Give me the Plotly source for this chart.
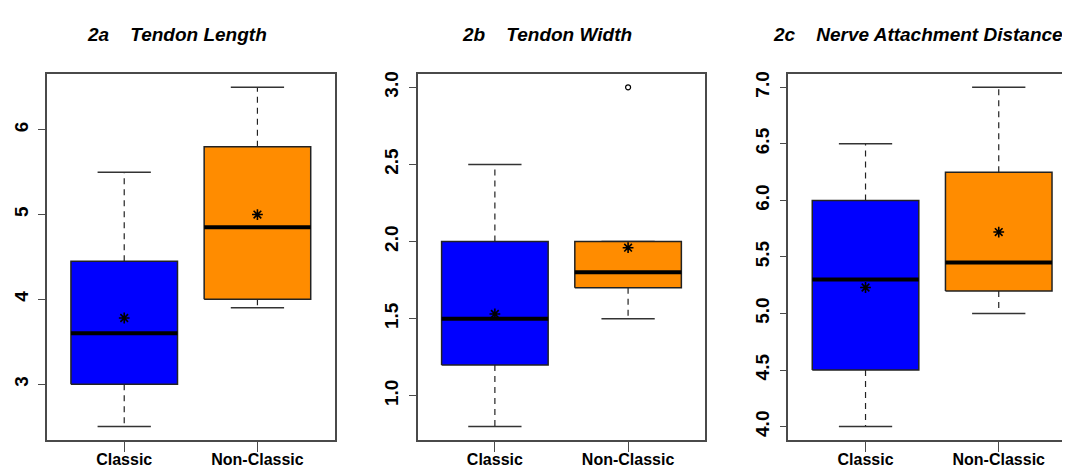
import plotly.graph_objects as go

# ---- data ----
groups = ["Classic", "Non-Classic"]
panel_ids = ["2a", "2b", "2c"]
panel_titles = ["Tendon Length", "Tendon Width", "Nerve Attachment Distance"]

# per panel: [Classic, Non-Classic]
lower_whisker = [[2.5, 3.9], [0.8, 1.5], [4.0, 5.0]]
q1 = [[3.0, 4.0], [1.2, 1.7], [4.5, 5.2]]
median = [[3.6, 4.85], [1.5, 1.8], [5.3, 5.45]]
q3 = [[4.45, 5.8], [2.0, 2.0], [6.0, 6.25]]
upper_whisker = [[5.5, 6.5], [2.5, 2.0], [6.5, 7.0]]
means = [[3.78, 5.0], [1.53, 1.96], [5.23, 5.72]]
outliers = [[[], []], [[], [3.0]], [[], []]]

y_ticks = [[3, 4, 5, 6], [1.0, 1.5, 2.0, 2.5, 3.0], [4.0, 4.5, 5.0, 5.5, 6.0, 6.5, 7.0]]
y_tickfmt = ["d", ".1f", ".1f"]

colors = ["#0000FF", "#FF8C00"]

# ---- layout geometry (pixels) ----
W, H = 1070, 472
frame_left = [39, 410, 781]
frame_w = 288
frame_top, frame_bottom = 64, 432

BOXW = 0.4   # half box width (R boxwex 0.8)
CAPW = 0.2   # half cap width
FRAME = "#4a4a4a"
FONT = "Liberation Sans, Arial, sans-serif"

fig = go.Figure()
layout = {}

for p in range(3):
    xa = "x" if p == 0 else f"x{p+1}"
    ya = "y" if p == 0 else f"y{p+1}"
    for g in range(2):
        c = g + 1
        # whiskers (dashed)
        fig.add_trace(go.Scatter(
            x=[c, c, None, c, c],
            y=[q3[p][g], upper_whisker[p][g], None, q1[p][g], lower_whisker[p][g]],
            mode="lines", line=dict(color="#222222", width=1.2, dash="6px,5px"),
            xaxis=xa, yaxis=ya, showlegend=False, hoverinfo="skip"))
        # caps
        fig.add_trace(go.Scatter(
            x=[c - CAPW, c + CAPW, None, c - CAPW, c + CAPW],
            y=[upper_whisker[p][g]] * 2 + [None] + [lower_whisker[p][g]] * 2,
            mode="lines", line=dict(color="#333333", width=1.5),
            xaxis=xa, yaxis=ya, showlegend=False, hoverinfo="skip"))
        # box
        fig.add_trace(go.Scatter(
            x=[c - BOXW, c + BOXW, c + BOXW, c - BOXW, c - BOXW],
            y=[q1[p][g], q1[p][g], q3[p][g], q3[p][g], q1[p][g]],
            mode="lines", fill="toself", fillcolor=colors[g],
            line=dict(color="#222222", width=1.5),
            xaxis=xa, yaxis=ya, showlegend=False, hoverinfo="skip"))
        # median
        fig.add_trace(go.Scatter(
            x=[c - BOXW, c + BOXW], y=[median[p][g]] * 2,
            mode="lines", line=dict(color="black", width=4),
            xaxis=xa, yaxis=ya, showlegend=False, hoverinfo="skip"))
        # mean
        fig.add_trace(go.Scatter(
            x=[c], y=[means[p][g]], mode="markers",
            marker=dict(symbol="asterisk-open", size=9, color="black",
                        line=dict(color="black", width=1.6)),
            xaxis=xa, yaxis=ya, showlegend=False, hoverinfo="skip"))
        # outliers
        if outliers[p][g]:
            fig.add_trace(go.Scatter(
                x=[c] * len(outliers[p][g]), y=outliers[p][g], mode="markers",
                marker=dict(symbol="circle-open", size=5, color="black",
                            line=dict(color="black", width=1.2)),
                xaxis=xa, yaxis=ya, showlegend=False, hoverinfo="skip"))

    lo = min(lower_whisker[p] + [v for o in outliers[p] for v in o])
    hi = max(upper_whisker[p] + [v for o in outliers[p] for v in o])
    pad = 0.04 * (hi - lo)
    xkey = "xaxis" if p == 0 else f"xaxis{p+1}"
    ykey = "yaxis" if p == 0 else f"yaxis{p+1}"
    layout[xkey] = dict(
        domain=[frame_left[p] / W, (frame_left[p] + frame_w) / W],
        anchor=ya, range=[0.42, 2.58],
        tickvals=[1, 2], ticktext=groups, ticks="outside", ticklen=10,
        tickcolor=FRAME, tickwidth=1.2, ticklabelstandoff=-6,
        tickfont=dict(family=FONT, size=16, color="black", weight="bold"),
        showline=True, mirror=True, linecolor=FRAME, linewidth=1.5,
        showgrid=False, zeroline=False, fixedrange=True)
    layout[ykey] = dict(
        domain=[(H - frame_bottom) / H, (H - frame_top) / H],
        anchor=xa, range=[lo - pad, hi + pad],
        tickvals=y_ticks[p], tickformat=y_tickfmt[p], tickangle=-90,
        ticks="outside", ticklen=7, tickcolor=FRAME, tickwidth=1.2,
        ticklabelstandoff=3,
        tickfont=dict(family=FONT, size=19, color="black", weight="bold"),
        showline=True, mirror=True, linecolor=FRAME, linewidth=1.5,
        showgrid=False, zeroline=False, fixedrange=True)

annotations = []
for p in range(3):
    xa = "x" if p == 0 else f"x{p+1}"
    annotations.append(dict(
        xref=f"{xa} domain", yref="paper", x=0.5, y=(H - 25) / H,
        xshift=-14, xanchor="center", yanchor="middle", showarrow=False,
        text=f"<b><i>{panel_ids[p]}</i></b>\u00a0\u00a0\u00a0\u00a0<b><i>{panel_titles[p]}</i></b>",
        font=dict(family=FONT, size=19, color="black")))

fig.update_layout(
    width=W, height=H, margin=dict(l=0, r=0, t=0, b=0),
    paper_bgcolor="white", plot_bgcolor="white",
    annotations=annotations, showlegend=False, **layout)

fig.write_html("out.html")
